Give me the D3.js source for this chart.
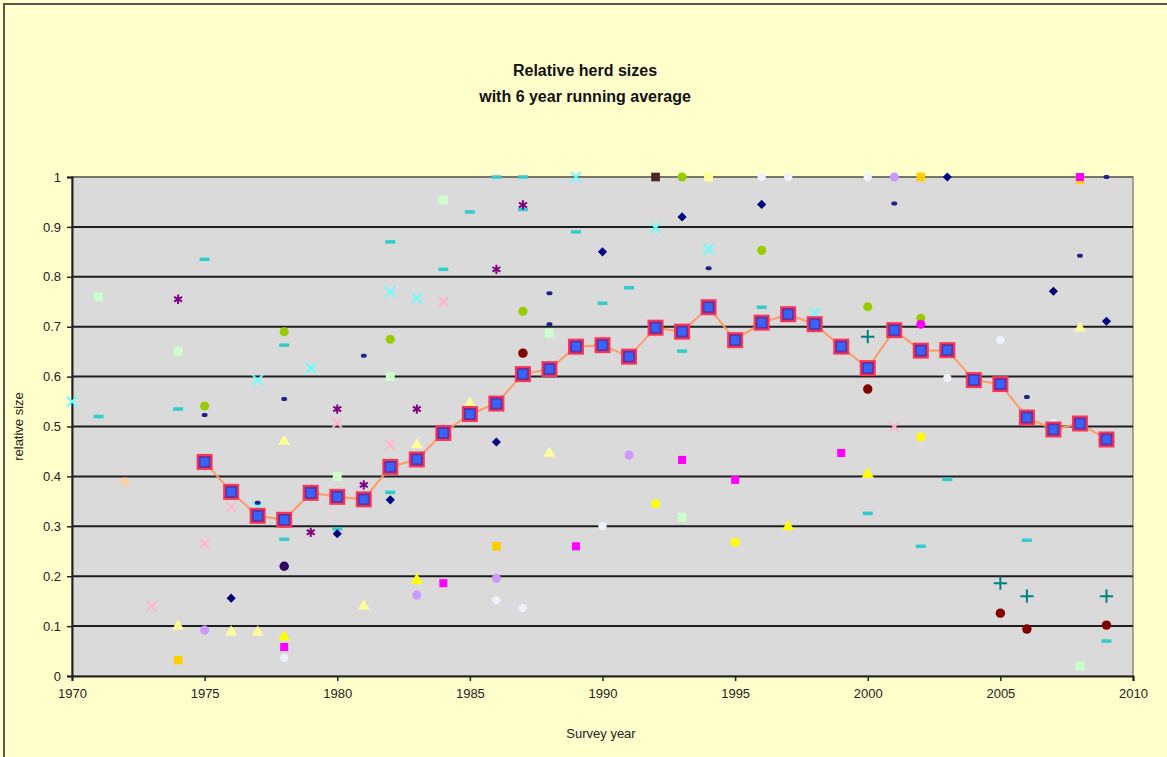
<!DOCTYPE html>
<html>
<head>
<meta charset="utf-8">
<script src="https://cdn.jsdelivr.net/npm/d3@7"></script>
<style>
  html, body { margin: 0; padding: 0; background: #FFFFCC; }
  svg { display: block; font-family: "Liberation Sans", Arial, sans-serif; }
</style>
</head>
<body>
<svg id="chart" width="1167" height="757"></svg>
<script>
// ---------------- DATA ----------------
const chartTitle = ["Relative herd sizes", "with 6 year running average"];
const xLabel = "Survey year";
const yLabel = "relative size";
const xTicks = [1970, 1975, 1980, 1985, 1990, 1995, 2000, 2005, 2010];
const yTicks = [0, 0.1, 0.2, 0.3, 0.4, 0.5, 0.6, 0.7, 0.8, 0.9, 1];

// 6 year running average
const avgYears  = [1975,1976,1977,1978,1979,1980,1981,1982,1983,1984,1985,1986,1987,1988,1989,1990,1991,1992,1993,1994,1995,1996,1997,1998,1999,2000,2001,2002,2003,2004,2005,2006,2007,2008,2009];
const avgValues = [0.429,0.369,0.321,0.313,0.367,0.359,0.354,0.419,0.434,0.487,0.525,0.546,0.605,0.615,0.660,0.663,0.640,0.698,0.690,0.739,0.673,0.708,0.725,0.705,0.660,0.617,0.693,0.652,0.653,0.593,0.585,0.518,0.494,0.506,0.474];

// individual herd observations, grouped by marker style: [year, relative size]
const navyDiamond = [[1976,0.156],[1980,0.285],[1982,0.353],[1986,0.469],[1990,0.85],[1993,0.92],[1996,0.945],[2003,1.0],[2007,0.771],[2009,0.711]];
const navySmall = [[1975,0.523],[1977,0.347],[1978,0.555],[1981,0.642],[1988,0.767],[1988,0.705],[1994,0.817],[2001,0.947],[2005,0.585],[2006,0.559],[2008,0.842],[2009,1.0]];
const magentaSquare = [[1978,0.058],[1984,0.186],[1989,0.26],[1993,0.433],[1995,0.393],[1999,0.447],[2008,1.0]];
const magentaCircle = [[2002,0.705]];
const yellowTriangle = [[1978,0.078],[1983,0.192],[1997,0.299],[2000,0.404]];
const yellowCircle = [[1992,0.345],[1995,0.268],[2002,0.479]];
const paleYellowTriangle = [[1974,0.10],[1976,0.088],[1977,0.088],[1978,0.47],[1981,0.14],[1983,0.463],[1985,0.547],[1988,0.446],[2008,0.697]];
const cyanX = [[1970,0.55],[1977,0.593],[1977,0.338],[1979,0.617],[1982,0.77],[1983,0.757],[1989,1.0],[1992,0.898],[1994,0.855],[1998,0.727],[2001,0.693]];
const cyanDash = [[1971,0.52],[1974,0.535],[1975,0.835],[1978,0.663],[1978,0.274],[1980,0.295],[1982,0.87],[1982,0.368],[1984,0.815],[1985,0.93],[1986,1.0],[1987,1.0],[1987,0.935],[1989,0.89],[1990,0.747],[1991,0.778],[1993,0.651],[1996,0.739],[2000,0.326],[2002,0.26],[2003,0.394],[2006,0.272],[2009,0.07]];
const purpleStar = [[1974,0.755],[1979,0.288],[1980,0.535],[1981,0.383],[1983,0.535],[1986,0.815],[1987,0.944]];
const maroonCircle = [[1987,0.647],[2000,0.575],[2005,0.126],[2006,0.094],[2009,0.102]];
const darkPurpleCircle = [[1978,0.22]];
const brownSquare = [[1992,1.0]];
const tealPlus = [[2000,0.68],[2005,0.186],[2006,0.16],[2009,0.16]];
const oliveCircle = [[1975,0.541],[1978,0.69],[1982,0.675],[1987,0.731],[1993,1.0],[1996,0.853],[2000,0.74],[2002,0.717]];
const goldSquare = [[1974,0.032],[1986,0.26],[2002,1.0],[2008,0.995]];
const lavenderCircle = [[1975,0.092],[1983,0.162],[1986,0.196],[1991,0.443],[2001,1.0]];
const paleGreenSquare = [[1971,0.76],[1974,0.651],[1980,0.40],[1982,0.60],[1984,0.954],[1988,0.687],[1993,0.318],[2008,0.02]];
const pinkX = [[1973,0.14],[1975,0.265],[1976,0.339],[1980,0.507],[1982,0.463],[1984,0.75],[2001,0.499]];
const peachPoint = [[1972,0.389]];
const palePoint = [[1978,0.036],[1986,0.152],[1987,0.136],[1990,0.30],[1996,1.0],[1997,1.0],[2000,1.0],[2003,0.597],[2005,0.673],[2007,0.507]];
const paleYellowSquare = [[1994,1.0]];

// marker styles (separate from the data)
const seriesList = [
  {data: pinkX,              shape: "x",        color: "#FFB3CC", size: 60},
  {data: peachPoint,         shape: "circle",   color: "#FFD0A0", size: 60},
  {data: palePoint,          shape: "circle",   color: "#EEF2FA", size: 55},
  {data: paleGreenSquare,    shape: "square",   color: "#CCFFCC", size: 80},
  {data: paleYellowTriangle, shape: "triangle", color: "#FFFF99", size: 60},
  {data: paleYellowSquare,   shape: "square",   color: "#FFFF99", size: 80},
  {data: lavenderCircle,     shape: "circle",   color: "#CC99FF", size: 65},
  {data: cyanX,              shape: "x",        color: "#66FFFF", size: 70},
  {data: cyanDash,           shape: "dash",     color: "#33CCCC", size: 0},
  {data: oliveCircle,        shape: "circle",   color: "#99CC00", size: 65},
  {data: goldSquare,         shape: "square",   color: "#FFCC00", size: 75},
  {data: yellowTriangle,     shape: "triangle", color: "#FFFF00", size: 65},
  {data: yellowCircle,       shape: "circle",   color: "#FFFF00", size: 65},
  {data: magentaSquare,      shape: "square",   color: "#FF00FF", size: 65},
  {data: magentaCircle,      shape: "circle",   color: "#FF00FF", size: 65},
  {data: purpleStar,         shape: "star",     color: "#800080", size: 60},
  {data: maroonCircle,       shape: "circle",   color: "#800000", size: 70},
  {data: darkPurpleCircle,   shape: "circle",   color: "#330066", size: 70},
  {data: brownSquare,        shape: "square",   color: "#4D2626", size: 75},
  {data: tealPlus,           shape: "plus",     color: "#008080", size: 60},
  {data: navyDiamond,        shape: "diamond",  color: "#000080", size: 42},
  {data: navySmall,          shape: "small",    color: "#202088", size: 0}
];

// ---------------- CHART ----------------
const svg = d3.select("#chart");
const W = 1167, H = 757;
const plot = {left: 72, right: 1133, top: 177, bottom: 676};

const x = d3.scaleLinear().domain([1970, 2010]).range([plot.left, plot.right]);
const y = d3.scaleLinear().domain([0, 1]).range([plot.bottom, plot.top]);

// background + frame
svg.append("rect").attr("x", 0).attr("y", 0).attr("width", W).attr("height", H).attr("fill", "#FFFFCC");
svg.append("path").attr("d", `M4,${H} L4,4 L${W},4`).attr("fill", "none").attr("stroke", "#555").attr("stroke-width", 2);

// plot area
svg.append("rect")
  .attr("x", plot.left).attr("y", plot.top)
  .attr("width", plot.right - plot.left).attr("height", plot.bottom - plot.top)
  .attr("fill", "#DADADA").attr("stroke", "#8a8a80").attr("stroke-width", 1.5);

// gridlines
svg.append("g").selectAll("line").data(yTicks.filter(d => d > 0)).join("line")
  .attr("x1", plot.left).attr("x2", plot.right)
  .attr("y1", d => y(d)).attr("y2", d => y(d))
  .attr("stroke", d => d === 1 ? "#777766" : "#1e1e1e").attr("stroke-width", 2);

// axes
const fmt = d => (d === 0 ? "0" : d === 1 ? "1" : d3.format(".1f")(d));
const yAxis = svg.append("g").attr("transform", `translate(${plot.left},0)`)
  .call(d3.axisLeft(y).tickValues(yTicks).tickFormat(fmt).tickSize(5).tickPadding(6));
const xAxis = svg.append("g").attr("transform", `translate(0,${plot.bottom})`)
  .call(d3.axisBottom(x).tickValues(xTicks).tickFormat(d3.format("d")).tickSize(5).tickPadding(8));
[yAxis, xAxis].forEach(g => {
  g.select(".domain").attr("stroke", "#222").attr("stroke-width", 2);
  g.selectAll(".tick line").attr("stroke", "#222").attr("stroke-width", 1.5);
  g.selectAll(".tick text").attr("fill", "#222").attr("font-size", 13)
    .attr("font-family", "'Liberation Sans', Arial, sans-serif");
});

// titles
svg.append("text").attr("x", 585).attr("y", 76).attr("text-anchor", "middle")
  .attr("font-size", 16).attr("font-weight", "bold").attr("fill", "#111").text(chartTitle[0]);
svg.append("text").attr("x", 585).attr("y", 102).attr("text-anchor", "middle")
  .attr("font-size", 16).attr("font-weight", "bold").attr("fill", "#111").text(chartTitle[1]);
svg.append("text").attr("x", 601).attr("y", 738).attr("text-anchor", "middle")
  .attr("font-size", 13).attr("fill", "#222").text(xLabel);
svg.append("text").attr("transform", `translate(23,${(plot.top + plot.bottom) / 2}) rotate(-90)`)
  .attr("text-anchor", "middle").attr("font-size", 13).attr("fill", "#222").text(yLabel);

// scatter markers
const symbolTypes = {
  diamond: d3.symbolSquare, square: d3.symbolSquare, triangle: d3.symbolTriangle,
  circle: d3.symbolCircle, x: d3.symbolTimes || d3.symbolX || d3.symbolCross,
  star: d3.symbolAsterisk || d3.symbolCross, plus: d3.symbolPlus || d3.symbolCross
};
const strokeShapes = new Set(["x", "star", "plus"]);
const markers = svg.append("g");
seriesList.forEach(s => {
  const g = markers.append("g");
  if (s.shape === "dash" || s.shape === "small") {
    const w = s.shape === "dash" ? 10 : 6, h = s.shape === "dash" ? 3.5 : 4;
    g.selectAll("rect").data(s.data).join("rect")
      .attr("x", d => x(d[0]) - w / 2).attr("y", d => y(d[1]) - h / 2)
      .attr("width", w).attr("height", h).attr("rx", s.shape === "small" ? 2 : 0)
      .attr("fill", s.color);
  } else {
    const sym = d3.symbol(symbolTypes[s.shape], s.size);
    const rot = s.shape === "diamond" ? " rotate(45)" : "";
    g.selectAll("path").data(s.data).join("path")
      .attr("transform", d => `translate(${x(d[0])},${y(d[1])})${rot}`)
      .attr("d", sym)
      .attr("fill", strokeShapes.has(s.shape) ? "none" : s.color)
      .attr("stroke", strokeShapes.has(s.shape) ? s.color : "none")
      .attr("stroke-width", strokeShapes.has(s.shape) ? 2 : 0);
  }
});

// running average line + markers
const avg = avgYears.map((yr, i) => [yr, avgValues[i]]);
svg.append("path").datum(avg)
  .attr("d", d3.line().x(d => x(d[0])).y(d => y(d[1])))
  .attr("fill", "none").attr("stroke", "#FF9966").attr("stroke-width", 2);
const sq = svg.append("g").selectAll("g").data(avg).join("g")
  .attr("transform", d => `translate(${x(d[0])},${y(d[1])})`);
sq.append("rect").attr("x", -7).attr("y", -7).attr("width", 14).attr("height", 14)
  .attr("fill", "#6633A0").attr("stroke", "#FF3355").attr("stroke-width", 2);
sq.append("rect").attr("x", -4).attr("y", -4).attr("width", 8).attr("height", 8)
  .attr("fill", "#3366FF");
</script>
</body>
</html>
